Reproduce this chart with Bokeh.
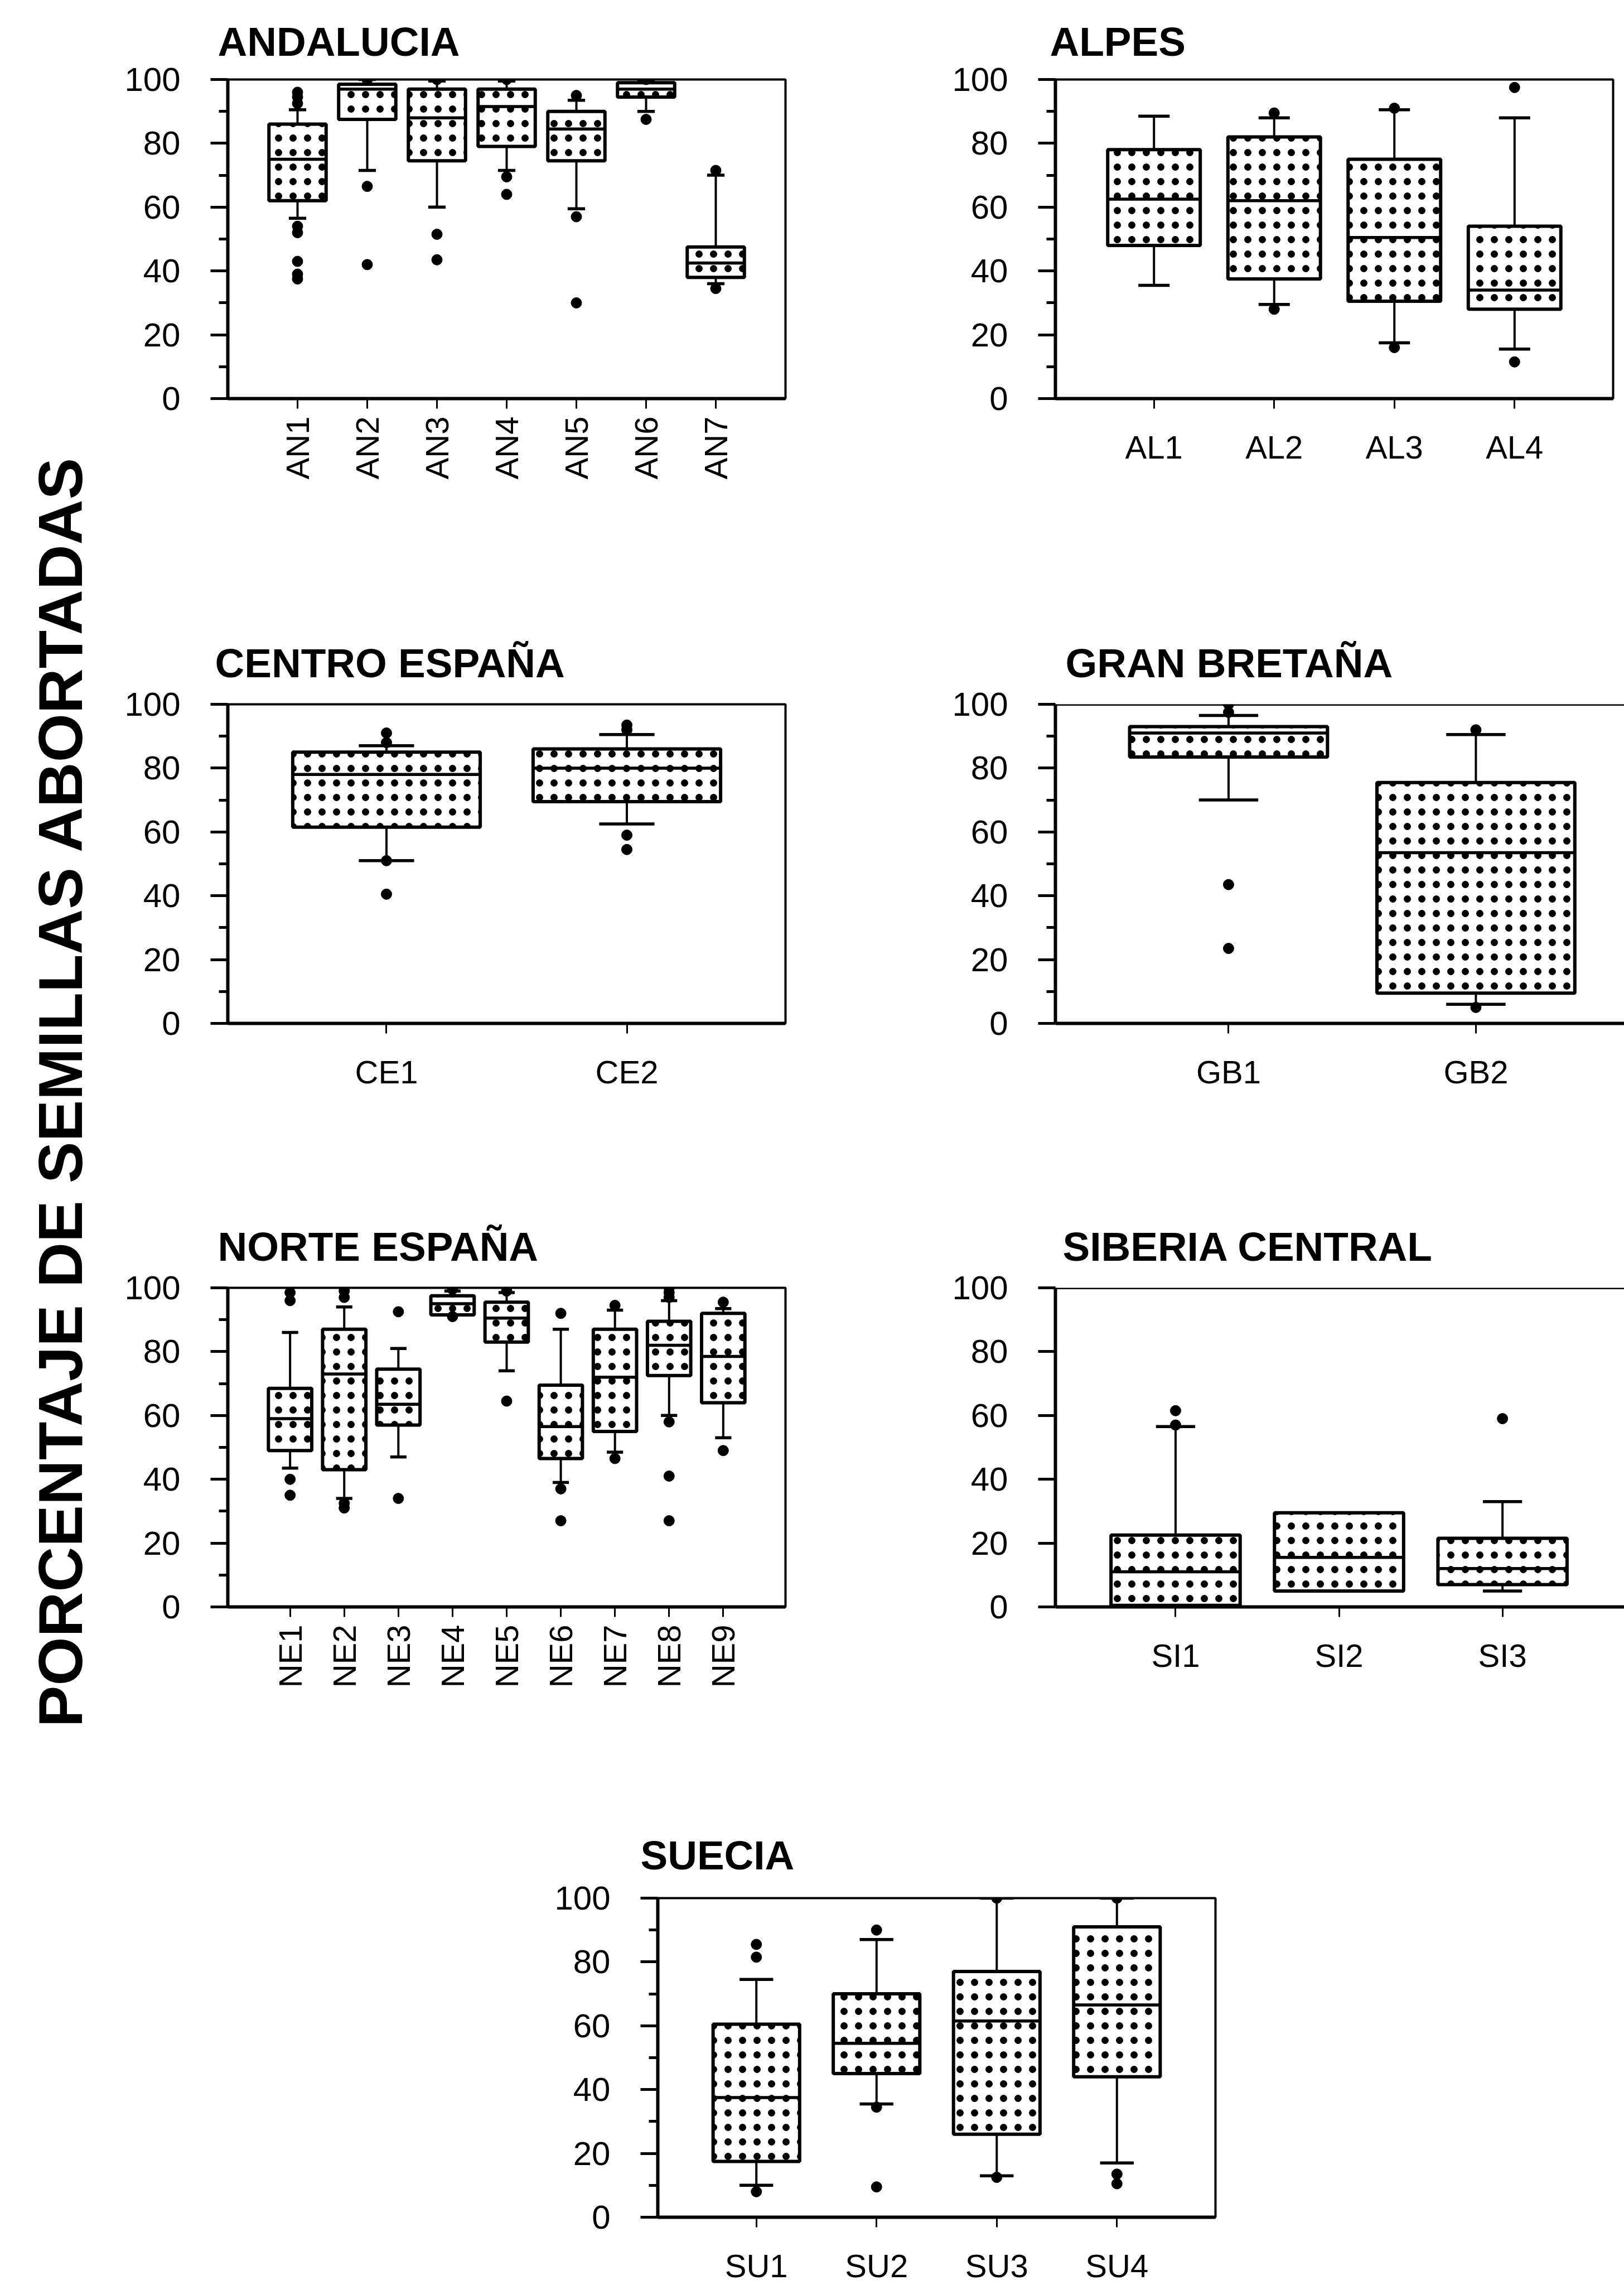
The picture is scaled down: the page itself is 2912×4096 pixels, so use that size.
from math import pi
from bokeh.plotting import figure
from bokeh.layouts import row, column
from bokeh.models import FixedTicker, Span
from bokeh.embed import file_html
from bokeh.resources import INLINE

FONT = "Liberation Sans"
Y_LABEL = "PORCENTAJE DE SEMILLAS ABORTADAS"
Y_TICKS = [0, 20, 40, 60, 80, 100]
Y_MINOR = [10, 30, 50, 70, 90]

# ---------------- data (percent of aborted seeds) ----------------
an_cats = ["AN1", "AN2", "AN3", "AN4", "AN5", "AN6", "AN7"]
an_lo = [56.5, 71.5, 60.0, 71.5, 59.5, 90.0, 36.0]
an_q1 = [62.0, 87.5, 74.5, 79.0, 74.5, 94.5, 38.0]
an_med = [75.0, 97.0, 88.0, 91.5, 84.5, 97.0, 42.5]
an_q3 = [86.0, 98.5, 97.0, 97.0, 90.0, 99.0, 47.5]
an_hi = [90.5, 100.0, 99.5, 99.5, 93.5, 99.5, 70.0]
an_out = [[96.0, 94.5, 92.5, 54.0, 52.0, 43.0, 39.0, 37.5], [100.0, 66.5, 42.0],
          [100.0, 51.5, 43.5], [100.0, 69.5, 64.0], [95.0, 57.0, 30.0],
          [100.0, 87.5], [71.5, 34.5]]

al_cats = ["AL1", "AL2", "AL3", "AL4"]
al_lo = [35.5, 29.5, 17.5, 15.5]
al_q1 = [48.0, 37.5, 30.5, 28.0]
al_med = [62.5, 62.0, 50.5, 34.0]
al_q3 = [78.0, 82.0, 75.0, 54.0]
al_hi = [88.5, 88.0, 90.5, 88.0]
al_out = [[], [89.5, 28.0], [91.0, 16.0], [97.5, 11.5]]

ce_cats = ["CE1", "CE2"]
ce_lo = [51.0, 62.5]
ce_q1 = [61.5, 69.5]
ce_med = [78.0, 80.0]
ce_q3 = [85.0, 86.0]
ce_hi = [87.0, 90.5]
ce_out = [[91.0, 88.0, 51.0, 40.5], [93.5, 92.0, 59.0, 54.5]]

gb_cats = ["GB1", "GB2"]
gb_lo = [70.0, 6.0]
gb_q1 = [83.5, 9.5]
gb_med = [91.0, 53.5]
gb_q3 = [93.0, 75.5]
gb_hi = [96.5, 90.5]
gb_out = [[100.0, 97.5, 43.5, 23.5], [92.0, 5.0]]

ne_cats = ["NE1", "NE2", "NE3", "NE4", "NE5", "NE6", "NE7", "NE8", "NE9"]
ne_lo = [43.5, 34.0, 47.0, 91.5, 74.0, 39.0, 48.5, 60.0, 53.0]
ne_q1 = [49.0, 43.0, 57.0, 91.5, 83.0, 46.5, 55.0, 72.5, 64.0]
ne_med = [59.0, 73.0, 63.5, 95.0, 90.5, 56.5, 72.0, 82.0, 78.5]
ne_q3 = [68.5, 87.0, 74.5, 97.5, 95.5, 69.5, 87.0, 89.5, 92.0]
ne_hi = [86.0, 94.0, 81.0, 99.0, 98.5, 87.0, 93.0, 96.0, 93.5]
ne_out = [[98.5, 96.0, 40.0, 35.0], [100.0, 99.0, 97.0, 32.5, 31.0], [92.5, 34.0],
          [99.5, 91.0], [99.0, 64.5], [92.0, 37.0, 27.0], [94.5, 46.5],
          [100.0, 98.5, 97.0, 58.0, 41.0, 27.0], [95.5, 49.0]]

si_cats = ["SI1", "SI2", "SI3"]
si_lo = [0.5, 5.0, 5.0]
si_q1 = [0.5, 5.0, 7.0]
si_med = [11.0, 15.5, 12.0]
si_q3 = [22.5, 29.5, 21.5]
si_hi = [56.5, 29.5, 33.0]
si_out = [[61.5, 57.0], [], [59.0]]

su_cats = ["SU1", "SU2", "SU3", "SU4"]
su_lo = [10.0, 35.5, 13.0, 17.0]
su_q1 = [17.5, 45.0, 26.0, 44.0]
su_med = [37.5, 54.5, 61.5, 66.5]
su_q3 = [60.5, 70.0, 77.0, 91.0]
su_hi = [74.5, 87.0, 100.0, 100.0]
su_out = [[85.5, 81.5, 8.0], [90.0, 34.5, 9.5], [100.0, 12.5], [100.0, 13.5, 10.5]]


def panel(title, cats, lo, q1, med, q3, hi, out, *, x_range, size, borders,
          box_w, cap_w, title_dx, title_gap=68, vertical=False, minor=True,
          closed=True):
    W, H = size
    ml, mr, mt, mb = borders
    xs = list(range(1, len(cats) + 1))
    p = figure(width=W, height=H, x_range=x_range, y_range=(0, 100),
               output_backend="svg", toolbar_location=None,
               min_border_left=ml, min_border_right=mr,
               min_border_top=mt, min_border_bottom=mb)
    p.grid.visible = False
    p.background_fill_color = "white"
    p.border_fill_color = "white"
    if closed:
        p.outline_line_color = "black"
        p.outline_line_width = 4
        p.outline_line_alpha = 1.0
    else:
        p.outline_line_color = None
        p.add_layout(Span(location=100, dimension="width",
                          line_color="black", line_width=5))

    # whiskers
    p.segment(x0=xs, x1=xs, y0=q3, y1=hi, line_color="black", line_width=4)
    p.segment(x0=xs, x1=xs, y0=lo, y1=q1, line_color="black", line_width=4)
    # boxes (stippled)
    p.vbar(x=xs, width=box_w, bottom=q1, top=q3, fill_color="white",
           line_color="black", line_width=6, hatch_pattern="dot",
           hatch_color="black", hatch_scale=26, hatch_weight=2.2)
    half = box_w / 2
    p.segment(x0=[x - half for x in xs], x1=[x + half for x in xs],
              y0=med, y1=med, line_color="black", line_width=5.5)
    c = cap_w / 2
    p.segment(x0=[x - c for x in xs], x1=[x + c for x in xs], y0=hi, y1=hi,
              line_color="black", line_width=5.5)
    p.segment(x0=[x - c for x in xs], x1=[x + c for x in xs], y0=lo, y1=lo,
              line_color="black", line_width=5.5)
    ox = [x for x, vals in zip(xs, out) for _ in vals]
    oy = [v for vals in out for v in vals]
    p.scatter(x=ox, y=oy, size=19, color="black")

    xa = p.xaxis[0]
    xa.ticker = FixedTicker(ticks=xs)
    xa.major_label_overrides = {x: c_ for x, c_ in zip(xs, cats)}
    xa.axis_line_width = 6
    xa.major_tick_line_width = 3
    xa.major_tick_in = 0
    xa.major_tick_out = 18
    xa.minor_tick_line_color = None
    xa.major_label_text_font = FONT
    xa.major_label_text_font_size = "58px"
    xa.major_label_text_color = "black"
    if vertical:
        xa.major_label_orientation = pi / 2
        xa.major_label_standoff = 14
    else:
        xa.major_label_standoff = 36

    ya = p.yaxis[0]
    ya.ticker = FixedTicker(ticks=Y_TICKS, minor_ticks=Y_MINOR if minor else [])
    ya.axis_line_width = 6
    ya.major_tick_line_width = 5
    ya.minor_tick_line_width = 5
    ya.major_tick_in = 0
    ya.major_tick_out = 31
    ya.minor_tick_in = 0
    ya.minor_tick_out = 16
    ya.major_label_text_font = FONT
    ya.major_label_text_font_size = "60px"
    ya.major_label_text_color = "black"
    ya.major_label_standoff = 54

    p.title.text = title
    p.title.text_font = FONT
    p.title.text_font_style = "bold"
    p.title.text_font_size = "73px"
    p.title.text_color = "black"
    p.title.align = "left"
    p.title.offset = title_dx
    p.title.standoff = title_gap
    return p


an = panel("ANDALUCIA", an_cats, an_lo, an_q1, an_med, an_q3, an_hi, an_out,
           x_range=(0.0, 8.0), size=(1400, 1000), borders=(208, 192, 142, 286),
           box_w=0.82, cap_w=0.25, title_dx=-18, title_gap=56, vertical=True)
al = panel("ALPES", al_cats, al_lo, al_q1, al_med, al_q3, al_hi, al_out,
           x_range=(0.18, 4.82), size=(1312, 1000), borders=(292, 20, 142, 286),
           box_w=0.77, cap_w=0.26, title_dx=-10, title_gap=56)
ce = panel("CENTRO ESPAÑA", ce_cats, ce_lo, ce_q1, ce_med, ce_q3, ce_hi, ce_out,
           x_range=(0.34, 2.66), size=(1400, 1150), borders=(208, 192, 262, 316),
           box_w=0.78, cap_w=0.23, title_dx=-23)
gb = panel("GRAN BRETAÑA", gb_cats, gb_lo, gb_q1, gb_med, gb_q3, gb_hi, gb_out,
           x_range=(0.30, 2.60), size=(1312, 1150), borders=(292, 0, 262, 316),
           box_w=0.80, cap_w=0.24, title_dx=18, closed=False)
ne = panel("NORTE ESPAÑA", ne_cats, ne_lo, ne_q1, ne_med, ne_q3, ne_hi, ne_out,
           x_range=(-0.15, 10.15), size=(1400, 1000), borders=(208, 192, 158, 270),
           box_w=0.80, cap_w=0.30, title_dx=-18, vertical=True)
si = panel("SIBERIA CENTRAL", si_cats, si_lo, si_q1, si_med, si_q3, si_hi, si_out,
           x_range=(0.265, 3.745), size=(1312, 1000), borders=(292, 0, 158, 270),
           box_w=0.79, cap_w=0.24, title_dx=13, minor=False, closed=False)
su = panel("SUECIA", su_cats, su_lo, su_q1, su_med, su_q3, su_hi, su_out,
           x_range=(0.18, 4.82), size=(2712, 946), borders=(979, 733, 252, 122),
           box_w=0.72, cap_w=0.28, title_dx=-31, title_gap=74)

ylab = figure(width=200, height=4096, x_range=(0, 1), y_range=(0, 1),
              output_backend="svg", toolbar_location=None,
              min_border_left=198, min_border_right=0,
              min_border_top=0, min_border_bottom=184,
              x_axis_type=None, y_axis_type=None,
              title=Y_LABEL, title_location="left")
ylab.grid.visible = False
ylab.outline_line_color = None
ylab.title.align = "center"
ylab.title.text_font = FONT
ylab.title.text_font_style = "bold"
ylab.title.text_font_size = "112px"
ylab.title.text_color = "black"
ylab.title.standoff = 56

page = row(ylab, column(row(an, al), row(ce, gb), row(ne, si), su))

with open("out.html", "w") as f:
    f.write(file_html(page, INLINE))
